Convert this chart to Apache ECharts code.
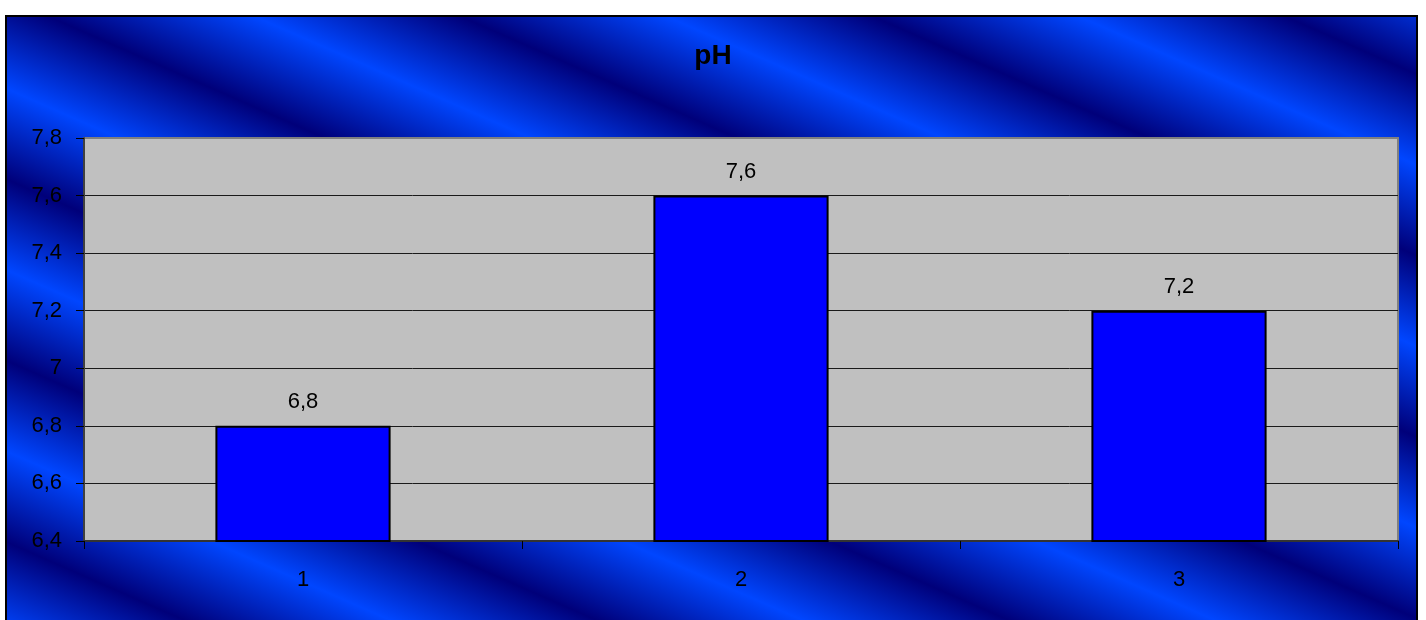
<!DOCTYPE html>
<html>
<head>
<meta charset="utf-8">
<title>pH</title>
<script src="https://cdn.jsdelivr.net/npm/echarts@6/dist/echarts.min.js"></script>
<style>
  html, body { margin: 0; padding: 0; background: #ffffff; }
  #chart { width: 1426px; height: 620px; }
</style>
</head>
<body>
<div id="chart"></div>
<script>
// Sample numbers and their pH readings
const categories = ['1', '2', '3'];
const phValues = [6.8, 7.6, 7.2];
const yTicks = { min: 6.4, max: 7.8, step: 0.2 };
const chartTitle = 'pH';

// Decimal comma, e.g. 7.2 -> "7,2", 7.0 -> "7"
const fmt = v => String(+(+v).toFixed(1)).replace('.', ',');

// Diagonal striped blue backdrop (navy / bright blue bands)
function stripeFill() {
  const ang = Math.atan(0.44);          // stripes fall to the right
  const period = 166;                   // band spacing, measured across the stripes
  const nx = -Math.sin(ang), ny = Math.cos(ang);
  const phase = 15 * nx + 183 * ny;     // a dark band runs through this point
  const tStart = phase - period * 5;
  const tEnd = phase + period * 3;
  const halfSteps = 16;
  const stops = [];
  for (let i = 0; i <= halfSteps; i++) {
    stops.push({ offset: i / halfSteps, color: i % 2 === 0 ? '#00007a' : '#0046ff' });
  }
  return new echarts.graphic.LinearGradient(
    tStart * nx, tStart * ny, tEnd * nx, tEnd * ny, stops, true
  );
}

const chart = echarts.init(document.getElementById('chart'), null, { renderer: 'canvas' });

const font = 'Liberation Sans, Arial, sans-serif';

chart.setOption({
  animation: false,
  backgroundColor: '#ffffff',
  graphic: [{
    type: 'rect',
    z: -10,
    silent: true,
    shape: { x: 6, y: 16, width: 1411, height: 640 },
    style: { fill: stripeFill(), stroke: '#000000', lineWidth: 2 }
  }],
  title: {
    text: chartTitle,
    left: 'center',
    top: 42,
    padding: 0,
    textStyle: { fontFamily: font, fontSize: 28, fontWeight: 'bold', color: '#000000' }
  },
  grid: {
    left: 84, right: 28, top: 138, bottom: 79,
    show: true,
    backgroundColor: '#c0c0c0',
    borderColor: '#808080',
    borderWidth: 2
  },
  xAxis: {
    type: 'category',
    data: categories,
    boundaryGap: true,
    axisLine: { show: true, lineStyle: { color: '#333333', width: 2 } },
    axisTick: { show: true, length: 8, inside: false, lineStyle: { color: '#000000', width: 1 } },
    axisLabel: { fontFamily: font, fontSize: 22, color: '#000000', margin: 28 },
    splitLine: { show: false }
  },
  yAxis: {
    type: 'value',
    min: yTicks.min,
    max: yTicks.max,
    interval: yTicks.step,
    axisLine: { show: true, lineStyle: { color: '#404040', width: 2 } },
    axisTick: { show: true, length: 8, inside: false, lineStyle: { color: '#000000', width: 1 } },
    axisLabel: { fontFamily: font, fontSize: 22, color: '#000000', margin: 22, formatter: fmt },
    splitLine: { show: true, showMinLine: false, showMaxLine: false, lineStyle: { color: '#1a1a1a', width: 1 } }
  },
  series: [{
    type: 'bar',
    data: phValues,
    barWidth: '40%',
    itemStyle: { color: '#0000ff', borderColor: '#000000', borderWidth: 2 },
    label: {
      show: true,
      position: 'top',
      distance: 13,
      fontFamily: font,
      fontSize: 22,
      color: '#000000',
      formatter: p => fmt(p.value)
    }
  }]
});
</script>
</body>
</html>
